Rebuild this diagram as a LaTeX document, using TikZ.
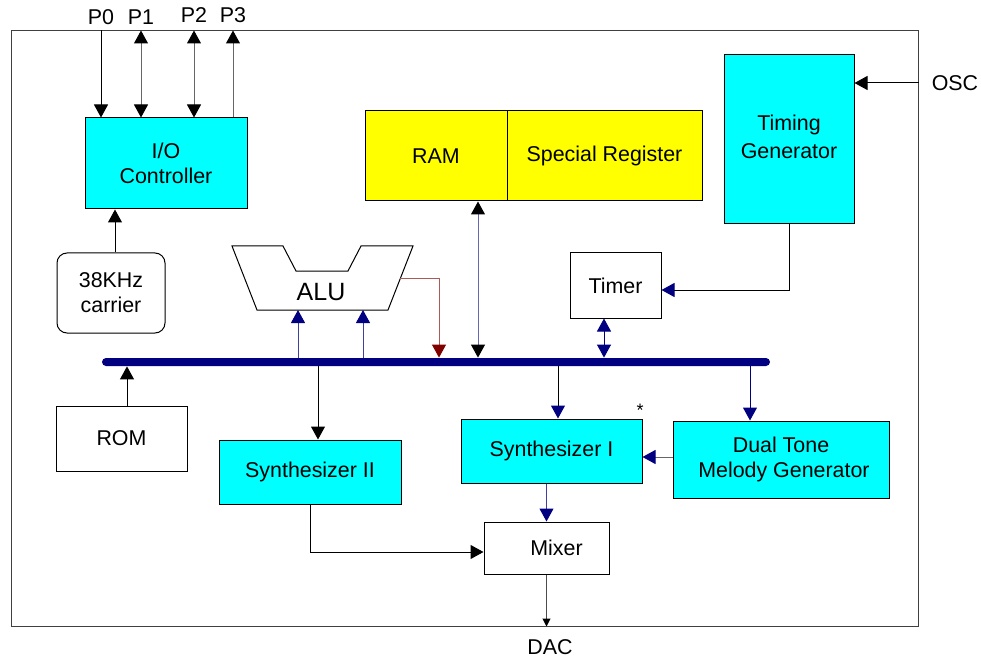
\documentclass[tikz,border=0pt]{standalone}
\usepackage{fontspec}
\setmainfont{Liberation Sans}
\usetikzlibrary{arrows.meta}
\definecolor{blkcyan}{RGB}{0,255,255}
\definecolor{memyellow}{RGB}{255,255,0}
\definecolor{busnavy}{RGB}{0,0,128}
\definecolor{aludark}{RGB}{128,0,0}
\tikzstyle{frame} = [rectangle, 
draw=black!75, 
line width=0.5pt, 
inner sep=0pt, 
minimum width=453.5pt, 
minimum height=297.5pt]
\tikzstyle{block} = [rectangle, 
draw=black, 
line width=0.5pt, 
inner sep=1pt, 
align=center, 
font=\fontsize{10.7}{12.5}\selectfont]
\tikzstyle{cyanblock} = [block, fill=blkcyan]
\tikzstyle{memblock} = [block, fill=memyellow, minimum height=45pt]
\tikzstyle{whiteblock} = [block, fill=white]
\tikzstyle{pin} = [inner sep=0pt, font=\fontsize{10.7}{12.5}\selectfont]
\tikzstyle{busbar} = [rectangle, 
fill=busnavy, 
rounded corners=2pt, 
inner sep=0pt, 
minimum width=334pt, 
minimum height=4pt]
\tikzstyle{arrow} = [line width=0.5pt, draw=black, -{Triangle[length=6.5pt,width=7pt,color=black]}]
\tikzstyle{smallarrow} = [line width=0.5pt, draw=black!70, -{Triangle[length=4pt,width=4pt,color=black]}]
\tikzstyle{dblarrow} = [line width=0.5pt, draw=black!60, 
{Triangle[length=6.5pt,width=7pt,color=black]}-{Triangle[length=6.5pt,width=7pt,color=black]}]
\tikzstyle{navyarrow} = [line width=0.5pt, draw=busnavy!75, -{Triangle[length=6.5pt,width=7pt,color=busnavy]}]
\tikzstyle{navydbl} = [line width=0.5pt, draw=busnavy, 
{Triangle[length=6.5pt,width=7pt,color=busnavy]}-{Triangle[length=6.5pt,width=7pt,color=busnavy]}]
\tikzstyle{redarrow} = [line width=0.5pt, draw=aludark!65, -{Triangle[length=6.5pt,width=7pt,color=aludark]}]

\begin{document}
\begin{tikzpicture}[x=0.5pt, y=-0.5pt]
  \useasboundingbox (0,0) rectangle (981,658);
  \node (chip) [frame] at (464.5,328.5) {};
  \node (p0) [pin] at (101,17) {P0};
  \node (p1) [pin] at (141,17) {P1};
  \node (p2) [pin] at (194,15) {P2};
  \node (p3) [pin] at (233,15) {P3};
  \node (osc) [pin] at (955,83) {OSC};
  \node (dac) [pin] at (550,647) {DAC};

  \node (io) [cyanblock, minimum width=81pt, minimum height=45.5pt] at (166,163.5) {I/O\\Controller};
  \node (carrier) [whiteblock, rounded corners=5pt, minimum width=54pt, minimum height=40pt] at (111,293) {38KHz\\carrier};
  \node (ram) [memblock, minimum width=71pt] at (436,156) {RAM};
  \node (sreg) [memblock, minimum width=97.5pt] at (604.5,156) {Special Register};
  \node (timing) [cyanblock, minimum width=65pt, minimum height=84.5pt] at (789,139.5) {Timing\\[1.5pt]Generator\\[-9.5pt]};
  \node (timer) [whiteblock, minimum width=45.5pt, minimum height=32.5pt] at (615.5,285.5) {Timer};
  \node (bus) [busbar] at (436,362) {};
  \node (rom) [whiteblock, minimum width=65.5pt, minimum height=32.5pt] at (121.5,438.5) {ROM};
  \node (syn2) [cyanblock, minimum width=91pt, minimum height=32pt] at (310,472) {Synthesizer II};
  \node (syn1) [cyanblock, minimum width=90.5pt, minimum height=32pt] at (551.5,451) {Synthesizer I};
  \node (star) [pin, font=\fontsize{9}{10}\selectfont] at (640,410) {*};
  \node (dtmg) [cyanblock, minimum width=108pt, minimum height=38.5pt] at (781,459.5) {Dual Tone\\ \ Melody Generator};
  \node (mixer) [whiteblock, minimum width=62.5pt, minimum height=26pt] at (546.5,548) {\hspace*{10pt}Mixer};

  % ALU outline
  \draw [fill=white, line width=0.5pt] (232,246) -- (283,246) -- (296,271) -- (348,271) -- (361,246)
    -- (413,246) -- (388,310) -- (257,310) -- cycle;
  \node (alu) [pin, font=\fontsize{12.5}{15}\selectfont] at (321,292) {ALU};
  \coordinate (aluA) at (298,310);
  \coordinate (aluB) at (363,310);
  \coordinate (aluO) at (400,278);
  \coordinate (aluR) at (439,278);

  \draw [arrow] (p0 |- chip.north) -- (p0 |- io.north);
  \draw [dblarrow] (p1 |- chip.north) -- (p1 |- io.north);
  \draw [dblarrow] (p2 |- chip.north) -- (p2 |- io.north);
  \draw [arrow, draw=black!60] (p3 |- io.north) -- (p3 |- chip.north);
  \draw [arrow] (osc -| chip.east) -- (osc -| timing.east);
  \draw [arrow] ([xshift=2pt]carrier.north) -- ([xshift=2pt]carrier.north |- io.south);
  \draw [navyarrow, draw=black] (timing.south) |- ([yshift=-2.25pt]timer.east);
  \draw [navydbl] ([xshift=-5.75pt]timer.south) -- ([xshift=-5.75pt]timer.south |- bus.north);
  \draw [dblarrow, draw=busnavy!60] ([xshift=21pt]ram.south) -- ([xshift=21pt]ram.south |- bus.north);
  \draw [navyarrow] (aluA |- bus.north) -- (aluA);
  \draw [navyarrow] (aluB |- bus.north) -- (aluB);
  \draw [redarrow] (aluO) -- (aluR) -- (aluR |- bus.north);
  \draw [arrow] ([xshift=2.75pt]rom.north) -- ([xshift=2.75pt]rom.north |- bus.south);
  \draw [arrow] ([xshift=4pt]syn2.north |- bus.south) -- ([xshift=4pt]syn2.north);
  \draw [navyarrow, draw=black] ([xshift=3.25pt]syn1.north |- bus.south) -- ([xshift=3.25pt]syn1.north);
  \draw [navyarrow, draw=busnavy] ([xshift=-15.5pt]dtmg.north |- bus.south) -- ([xshift=-15.5pt]dtmg.north);
  \draw [navyarrow, draw=black!60] ([yshift=1.25pt]dtmg.west) -- ([yshift=1.25pt]dtmg.west -| syn1.east);
  \draw [navyarrow] (syn1.south -| mixer.north) -- (mixer.north);
  \draw [arrow] (syn2.south) |- ([yshift=-2pt]mixer.west);
  \draw [smallarrow] (mixer.south) -- (mixer.south |- chip.south);
\end{tikzpicture}
\end{document}
